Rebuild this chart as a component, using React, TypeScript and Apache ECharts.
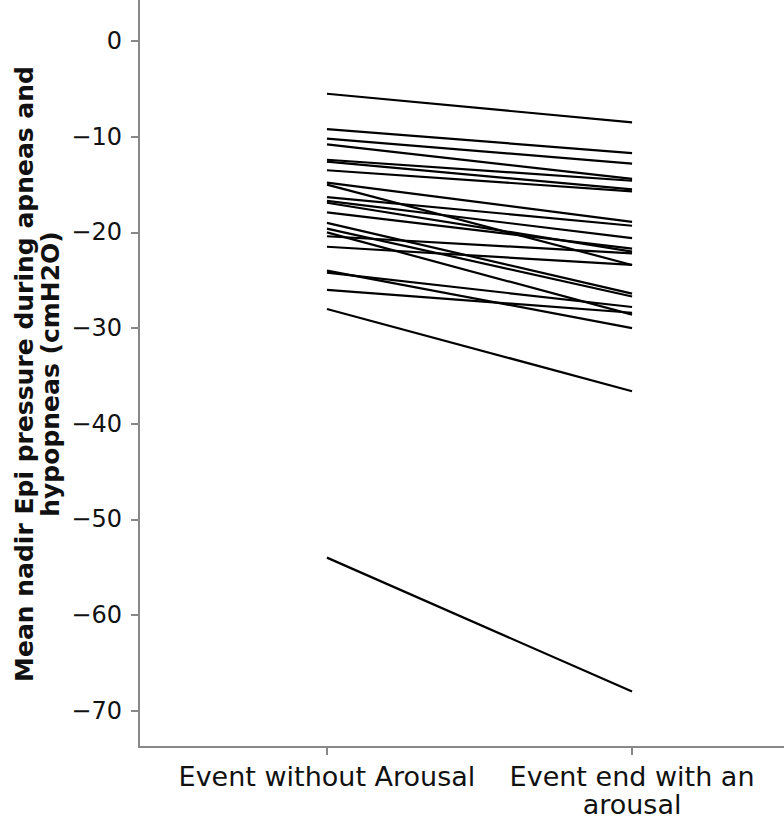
import React, { useEffect, useRef } from "react";
import * as echarts from "echarts";

const categories = ["Event without Arousal", "Event end with an\narousal"];
const withoutArousal = [
  -5.5, -9.2, -10.2, -10.8, -12.4, -12.6, -13.5, -14.8, -15.0, -16.3, -16.7, -16.9,
  -17.9, -19.0, -19.6, -20.0, -20.4, -21.5, -24.0, -24.2, -26.0, -28.0, -54.0,
];
const withArousal = [
  -8.5, -11.7, -12.8, -14.4, -14.6, -15.5, -15.7, -18.9, -23.4, -19.3, -20.6, -22.0,
  -21.7, -26.4, -26.7, -28.6, -22.2, -23.4, -30.0, -27.8, -28.4, -36.6, -68.0,
];
const yTicks = [0, -10, -20, -30, -40, -50, -60, -70];
const yTitle = "Mean nadir Epi pressure during apneas and\nhypopneas (cmH2O)";

export default function App() {
  const ref = useRef<HTMLDivElement>(null);
  useEffect(() => {
    document.body.style.margin = "0";
    const chart = echarts.init(ref.current!, null, { renderer: "svg" });
    const font = "DejaVu Sans";
    const series = withoutArousal.map((v, i) => ({
      type: "line",
      data: [
        [0, v],
        [1, withArousal[i]],
      ],
      symbol: "none",
      lineStyle: { color: "#000", width: 2.2 },
      silent: true,
    }));
    chart.setOption({
      animation: false,
      grid: { left: 139, right: 0, top: 0, bottom: 75 },
      xAxis: {
        type: "value",
        min: -0.616,
        max: 1.498,
        splitLine: { show: false },
        axisLine: { show: true, onZero: false, lineStyle: { color: "#888", width: 2 } },
        axisTick: { show: true, customValues: [0, 1], length: 8, lineStyle: { color: "#888", width: 2 } },
        axisLabel: {
          customValues: [0, 1],
          formatter: (v: number) => categories[Math.round(v)] ?? "",
          fontFamily: font,
          fontSize: 27,
          color: "#111",
          lineHeight: 28,
          margin: 15,
        },
      },
      yAxis: {
        type: "value",
        min: -73.8,
        max: 4.3,
        splitLine: { show: false },
        axisLine: { show: true, onZero: false, lineStyle: { color: "#888", width: 2 } },
        axisTick: { show: true, customValues: yTicks, length: 8, lineStyle: { color: "#888", width: 2 } },
        axisLabel: {
          customValues: yTicks,
          formatter: (v: number) => String(v).replace("-", "\u2212"),
          fontFamily: font,
          fontSize: 24,
          color: "#111",
          margin: 17,
        },
      },
      graphic: [
        {
          type: "text",
          x: 37,
          y: 374,
          rotation: Math.PI / 2,
          style: {
            text: yTitle,
            fontFamily: font,
            fontWeight: "bold",
            fontSize: 25,
            lineHeight: 26,
            fill: "#111",
            textAlign: "center",
            textVerticalAlign: "middle",
          },
        },
      ],
      series,
    });
    return () => chart.dispose();
  }, []);
  return <div ref={ref} style={{ width: 784, height: 822 }} />;
}
